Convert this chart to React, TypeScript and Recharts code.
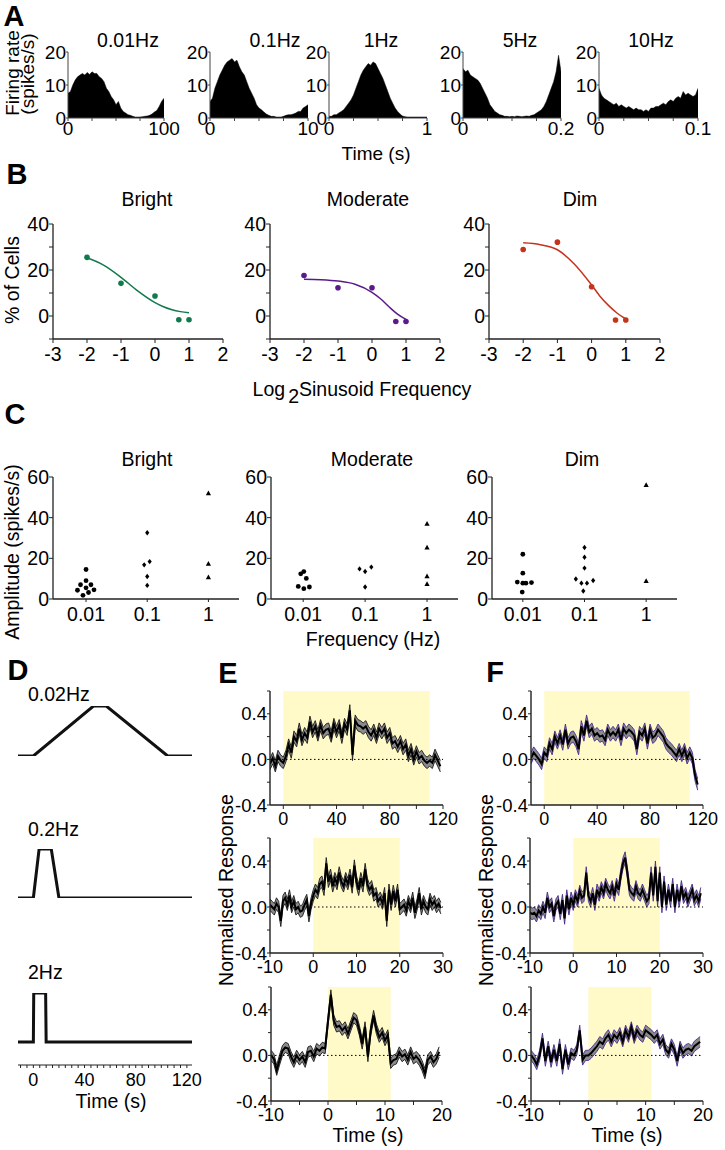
import React from 'react';
import {
  AreaChart, Area, ComposedChart, Line, LineChart, Scatter, XAxis, YAxis,
  ReferenceArea, ReferenceLine,
} from 'recharts';

const FONT = "'Liberation Sans', Arial, Helvetica, sans-serif";

// ---------------- Panel A: firing-rate histograms (spikes/s) ----------------
const A_F001 = [7.5, 8, 10, 11.5, 12.5, 13, 13.5, 13, 13.8, 13.2, 14, 13.5, 13.5, 12.5, 12, 11, 9, 8, 6.5, 5.5, 4, 5, 3, 2, 1.5, 1, 0.8, 0.5, 0.3, 0.3, 0.3, 0.4, 0.5, 0.6, 0.8, 1.2, 1.8, 2.3, 3.5, 5, 6];
const A_F01 = [5, 6, 9, 11, 13, 14.5, 16, 17, 17.5, 18, 17, 17.5, 15.5, 14, 13, 11, 9, 7.5, 6, 4, 3, 2.5, 1.8, 1.2, 0.8, 0.5, 0.5, 0.3, 0.3, 0.3, 0.5, 0.8, 1, 1, 1.2, 1.5, 2, 2, 3, 3.5, 4];
const A_F1 = [0.5, 0.5, 1, 1, 1.5, 2, 2.5, 3.5, 4.5, 5.5, 7, 9, 11, 13, 14.5, 15.5, 16.5, 16, 17, 16.5, 15, 13.5, 12, 10, 8, 6, 4.5, 3, 2, 1.2, 0.6, 0.4, 0.3, 0.3, 0.3, 0.3, 0.3, 0.3, 0.3, 0.3, 0.3];
const A_F5 = [15, 14, 14.5, 13, 12.5, 12, 11.5, 10.5, 9, 7.5, 6, 4, 3, 2, 1.5, 1, 0.8, 0.5, 0.5, 0.4, 0.5, 0.4, 0.6, 0.5, 0.4, 0.5, 0.6, 0.5, 0.8, 1, 1.5, 2, 2.5, 3.5, 5, 7, 9, 11, 14, 19, 14];
const A_F10 = [9, 7, 6, 5.5, 5, 4.5, 4, 4.5, 3.5, 4, 3.5, 3, 3.5, 3, 2.5, 3, 2.5, 2.5, 2, 2.5, 2, 3, 3, 3.5, 3.5, 4, 4.5, 4, 5, 5.5, 5, 6, 6.5, 6, 8, 7, 7.5, 7, 6.5, 7, 9];
const A_TITLES = ['0.01Hz', '0.1Hz', '1Hz', '5Hz', '10Hz'];
const A_MAX = [100, 10, 1, 0.2, 0.1];
const A_END_LABELS = ['100', '10', '1', '0.2', '0.1'];

// ---------------- Panel B: % of cells vs log frequency ----------------
const B_X = [-2, -1, 0, 0.7, 1];
const B_BRIGHT = [25.5, 14.2, 8.7, -1.6, -1.6];
const B_MODERATE = [17.6, 12.3, 12.3, -2.4, -2.4];
const B_DIM = [28.9, 32.1, 12.7, -1.75, -1.75];
const B_FIT_X = [-2, -1.5, -1, -0.5, 0, 0.25, 0.5, 0.75, 1];
const B_BRIGHT_FIT = [25.3, 22, 16.8, 10.8, 5.8, 4, 2.7, 1.9, 1.4];
const B_MODERATE_FIT = [16.0, 15.8, 15.2, 13.8, 10.3, 7.5, 4.0, 0.8, -1.5];
const B_DIM_FIT = [31.8, 31.0, 28.8, 22.5, 13.5, 8.5, 4.5, 1.2, -1.3];
const B_TICKS_X = [-3, -2, -1, 0, 1, 2];

// ---------------- Panel C: amplitudes (spikes/s) ----------------
const C_CATS = ['0.01', '0.1', '1'];
const C_BRIGHT_001 = [14.5, 9, 7, 7, 4.3, 5.5, 4.5, 3.2, 1.8];
const C_BRIGHT_001_J = [0, 0, -0.09, 0.08, -0.14, 0, 0.13, 0.04, -0.05];
const C_BRIGHT_01 = [32.6, 16.8, 18.4, 11.1, 6.7];
const C_BRIGHT_01_J = [0, -0.05, 0.04, 0, 0];
const C_BRIGHT_1 = [51.9, 17.3, 10.6];
const C_MOD_001 = [12.4, 13.5, 10.1, 6.2, 5.1, 5.9];
const C_MOD_001_J = [-0.04, 0.01, 0.05, -0.08, 0.01, 0.1];
const C_MOD_01 = [14.8, 13.5, 15.7, 5.9];
const C_MOD_01_J = [-0.09, 0, 0.1, 0];
const C_MOD_1 = [36.9, 25.3, 11.1, 7.3];
const C_DIM_001 = [22.0, 12.7, 8.3, 7.8, 7.8, 8.1, 3.4];
const C_DIM_001_J = [0, 0, -0.09, 0, 0.05, 0.14, -0.01];
const C_DIM_01 = [25.3, 20.5, 15.2, 9.8, 7.8, 7.8, 9.1, 3.9];
const C_DIM_01_J = [0, 0, 0, -0.14, -0.05, 0.04, 0.14, -0.02];
const C_DIM_1 = [56, 8.8];

// ---------------- Panel D: stimulus profiles ----------------
const D1_T = [-12, 0, 47, 57, 105, 124];
const D1_V = [0, 0, 1, 1, 0, 0];
const D2_T = [-12, 0, 4.5, 14, 20, 124];
const D2_V = [0, 0, 1, 1, 0, 0];
const D3_T = [-12, 0, 0.3, 9.6, 10, 124];
const D3_V = [0, 0, 1, 1, 0, 0];
const D_TICKS = [-10, -5, 0, 5, 10, 15, 20, 25, 30, 35, 40, 45, 50, 55, 60, 65, 70, 75, 80, 85, 90, 95, 100, 105, 110, 115, 120];

// ---------------- Panels E & F: normalised responses ----------------
const E1 = [-0.04, 0.01, -0.06, 0.03, -0.01, -0.03, 0.03, 0.13, 0.06, 0.2, 0.16, 0.27, 0.17, 0.23, 0.19, 0.33, 0.24, 0.29, 0.21, 0.3, 0.23, 0.26, 0.27, 0.2, 0.31, 0.24, 0.3, 0.19, 0.31, 0.26, 0.43, 0.04, 0.34, 0.3, 0.29, 0.27, 0.29, 0.24, 0.21, 0.26, 0.19, 0.27, 0.23, 0.27, 0.19, 0.23, 0.14, 0.16, 0.11, 0.16, 0.09, 0.13, 0.03, 0.09, 0.0, 0.07, 0.01, 0.03, -0.01, -0.03, -0.01, -0.03, 0.04, -0.01, -0.06];
const E2 = [0.02, 0.0, -0.02, 0.03, 0.0, -0.12, 0.05, 0.08, 0.02, 0.1, 0.0, 0.05, -0.02, 0.0, -0.04, -0.03, 0.02, 0.06, -0.08, 0.03,
  0.1, 0.15, 0.12, 0.2, 0.22, 0.15, 0.38, 0.22, 0.28, 0.18, 0.25, 0.2, 0.3, 0.22, 0.18, 0.25, 0.2, 0.28, 0.17, 0.36,
  0.22, 0.15, 0.25, 0.18, 0.33, 0.2, 0.15, 0.18, 0.1, 0.12, 0.05, 0.08, 0.03, 0.12, -0.12, 0.15, 0.02, 0.14, 0.05, 0.15,
  -0.02, 0.0, 0.02, -0.03, 0.05, 0.0, 0.08, -0.05, 0.02, 0.12, -0.02, 0.05, 0.0, -0.02, 0.07, 0.02, 0.05, 0.0, 0.03, -0.01];
const E3 = [0.0, -0.03, -0.13, -0.04, 0.04, 0.07, 0.06, -0.01, -0.06, 0.0, -0.04, -0.01, -0.06, 0.03, 0.04, -0.01, 0.06, 0.04, 0.07, 0.06,
  0.3, 0.53, 0.31, 0.25, 0.26, 0.22, 0.25, 0.19, 0.26, 0.33, 0.31, 0.22, 0.1, 0.25, -0.01, 0.22, 0.35, 0.23, 0.16, 0.2,
  0.13, 0.18, -0.07, -0.04, -0.03, 0.03, -0.01, 0.01, -0.04, 0.03, -0.03, -0.01, -0.04, -0.09, -0.16, -0.04, -0.01, -0.06, -0.03, 0.03];
const F1 = [0.01, 0.06, 0.03, 0.0, -0.04, 0.06, 0.03, 0.14, 0.09, 0.2, 0.14, 0.21, 0.13, 0.26, 0.14, 0.19, 0.2, 0.16, 0.09, 0.29, 0.21, 0.34, 0.24, 0.27, 0.21, 0.23, 0.2, 0.21, 0.17, 0.26, 0.21, 0.24, 0.21, 0.26, 0.17, 0.27, 0.23, 0.26, 0.24, 0.21, 0.09, 0.24, 0.21, 0.27, 0.14, 0.26, 0.19, 0.21, 0.26, 0.23, 0.2, 0.14, 0.11, 0.09, 0.06, 0.03, 0.09, 0.03, 0.09, 0.01, 0.06, 0.01, -0.14, -0.22];
const F2 = [-0.05, -0.06, -0.05, -0.08, -0.03, -0.06, 0.0, -0.05, 0.08, 0.0, 0.03, -0.08, 0.02, 0.05, -0.06, 0.06, -0.1, 0.1, -0.02, 0.08,
  0.02, 0.1, 0.05, 0.14, 0.08, 0.1, 0.3, 0.1, 0.05, 0.12, 0.02, 0.15, 0.1, 0.17, 0.12, 0.2, 0.15, 0.12, 0.18, 0.1,
  0.2, 0.15, 0.28, 0.38, 0.43, 0.3, 0.15, 0.12, 0.1, 0.18, 0.12, 0.1, 0.15, 0.1, 0.05, 0.08, 0.3, 0.1, 0.35, 0.05,
  0.3, 0.0, 0.22, 0.02, 0.15, 0.05, 0.2, 0.0, 0.15, 0.05, 0.18, 0.08, 0.12, 0.05, 0.1, 0.15, 0.06, 0.1, 0.05, 0.12];
const F3 = [0.0, -0.03, -0.08, 0.0, 0.15, -0.05, 0.08, -0.06, 0.05, -0.05, 0.1, -0.12, 0.05, -0.08, 0.02, 0.0, 0.05, 0.22, -0.04, 0.0,
  0.0, 0.02, 0.05, 0.08, 0.12, 0.1, 0.15, 0.18, 0.12, 0.18, 0.15, 0.2, 0.12, 0.22, 0.16, 0.25, 0.15, 0.22, 0.18, 0.16,
  0.22, 0.2, 0.18, 0.15, 0.18, 0.1, 0.14, 0.05, 0.02, 0.1, 0.05, -0.05, 0.08, 0.02, 0.05, 0.06, 0.04, 0.08, 0.1, 0.12];
const SEM_E = [0.05, 0.05, 0.045];
const SEM_F = [0.05, 0.05, 0.045];
const Y_RESP_TICKS = [-0.4, -0.2, 0, 0.2, 0.4, 0.6];
const X_TICKS_120 = [0, 20, 40, 60, 80, 100, 120];
const X_TICKS_30 = [-10, 0, 10, 20, 30];
const X_TICKS_20 = [-10, -5, 0, 5, 10, 15, 20];

// ---------------- layout helpers ----------------
type Rect = { x: number; y: number; w: number; h: number };
const YW = 56, XH = 40, MT = 16, MR = 34, ML = 2, MB = 2;
const MARGIN = { top: MT, right: MR, bottom: MB, left: ML };

function Frame({ r, children }: { r: Rect; children: (w: number, h: number) => React.ReactNode }) {
  const width = ML + YW + r.w + MR;
  const height = MT + r.h + XH + MB;
  return (
    <div style={{ position: 'absolute', left: r.x - YW - ML, top: r.y - MT, width, height }}>
      {children(width, height)}
    </div>
  );
}

function T({ x, y, s = 19.5, children, rot = false, bold = false, left = false }:
  { x: number; y: number; s?: number; children: React.ReactNode; rot?: boolean; bold?: boolean; left?: boolean }) {
  return (
    <div style={{
      position: 'absolute', left: x, top: y,
      transform: `translate(${left ? '0' : '-50%'},-50%)${rot ? ' rotate(-90deg)' : ''}`,
      fontSize: s, fontWeight: bold ? 700 : 400, lineHeight: 1, whiteSpace: 'nowrap',
      color: '#000', fontFamily: FONT,
    }}>{children}</div>
  );
}

const tickStyle = (s: number) => ({ fill: '#000', fontSize: s, fontFamily: FONT });

// ---------------- Panel A ----------------
function Hist({ r, values, max, endLabel }: { r: Rect; values: number[]; max: number; endLabel: string }) {
  const n = values.length - 1;
  const data = values.map((v, i) => ({ x: (i * max) / n, v }));
  return (
    <Frame r={r}>
      {(w, h) => (
        <AreaChart width={w} height={h} data={data} margin={MARGIN}>
          <XAxis dataKey="x" type="number" domain={[0, max]} allowDataOverflow
            ticks={[0, max / 4, max / 2, (3 * max) / 4, max]} interval={0}
            tickFormatter={(t: number) => (t === 0 ? '0' : t === max ? endLabel : '')}
            height={XH} tickSize={3} tickMargin={1}
            axisLine={{ stroke: '#444', strokeWidth: 1 }} tickLine={{ stroke: '#444' }} tick={tickStyle(19)} />
          <YAxis type="number" domain={[0, 20]} ticks={[0, 10, 20]} interval={0} width={YW}
            tickSize={2} tickMargin={0}
            axisLine={{ stroke: '#444', strokeWidth: 1 }} tickLine={{ stroke: '#444' }} tick={tickStyle(19)} />
          <Area type="linear" dataKey="v" stroke="#000" strokeWidth={0.5} fill="#000" fillOpacity={1} isAnimationActive={false} />
        </AreaChart>
      )}
    </Frame>
  );
}

// ---------------- Panel B ----------------
function Fit({ r, pts, fit, color }: { r: Rect; pts: number[]; fit: number[]; color: string }) {
  const ptsData = B_X.map((x, i) => ({ x, y: pts[i] }));
  const fitData = B_FIT_X.map((x, i) => ({ x, y: fit[i] }));
  return (
    <Frame r={r}>
      {(w, h) => (
        <ComposedChart width={w} height={h} margin={MARGIN}>
          <XAxis dataKey="x" type="number" domain={[-3, 2]} ticks={B_TICKS_X} interval={0}
            height={XH} tickSize={4} tickMargin={4}
            axisLine={{ stroke: '#222', strokeWidth: 1.3 }} tickLine={{ stroke: '#222' }} tick={tickStyle(19.5)} />
          <YAxis dataKey="y" type="number" domain={[-10, 40]} ticks={[-10, 0, 10, 20, 30, 40]} interval={0}
            tickFormatter={(v: number) => (v % 20 === 0 ? String(v) : '')}
            width={YW} tickSize={4} tickMargin={0}
            axisLine={{ stroke: '#222', strokeWidth: 1.3 }} tickLine={{ stroke: '#222' }} tick={tickStyle(19.5)} />
          <Line data={fitData} dataKey="y" type="monotone" stroke={color} strokeWidth={1.5} dot={false} isAnimationActive={false} />
          <Scatter data={ptsData} dataKey="y" fill={color} isAnimationActive={false}
            shape={(p: any) => <circle cx={p.cx} cy={p.cy} r={2.8} fill={color} />} />
        </ComposedChart>
      )}
    </Frame>
  );
}

// ---------------- Panel C ----------------
const circleShape = (p: any) => <circle cx={p.cx} cy={p.cy} r={2.4} fill="#000" />;
const diamondShape = (p: any) => (
  <path d={`M${p.cx},${p.cy - 2.7}L${p.cx + 2.1},${p.cy}L${p.cx},${p.cy + 2.7}L${p.cx - 2.1},${p.cy}Z`} fill="#000" />
);
const triShape = (p: any) => (
  <path d={`M${p.cx},${p.cy - 2.9}L${p.cx + 2.6},${p.cy + 1.9}L${p.cx - 2.6},${p.cy + 1.9}Z`} fill="#000" />
);

function Amp({ r, lo, a, aj, b, bj, c }:
  { r: Rect; lo: number; a: number[]; aj: number[]; b: number[]; bj: number[]; c: number[] }) {
  const da = a.map((y, i) => ({ x: 1 + aj[i], y }));
  const db = b.map((y, i) => ({ x: 2 + bj[i], y }));
  const dc = c.map((y) => ({ x: 3, y }));
  return (
    <Frame r={r}>
      {(w, h) => (
        <ComposedChart width={w} height={h} margin={MARGIN}>
          <XAxis dataKey="x" type="number" domain={[lo, 3.5]} ticks={[1, 2, 3]} interval={0}
            tickFormatter={(v: number) => C_CATS[v - 1]}
            height={XH} tickSize={3} tickMargin={5}
            axisLine={{ stroke: '#222', strokeWidth: 1.3 }} tickLine={{ stroke: '#222' }} tick={tickStyle(19.5)} />
          <YAxis dataKey="y" type="number" domain={[0, 60]} ticks={[0, 20, 40, 60]} interval={0}
            width={YW} tickSize={4} tickMargin={0}
            axisLine={{ stroke: '#222', strokeWidth: 1.3 }} tickLine={{ stroke: '#222' }} tick={tickStyle(19.5)} />
          <Scatter data={da} dataKey="y" fill="#000" isAnimationActive={false} shape={circleShape} />
          <Scatter data={db} dataKey="y" fill="#000" isAnimationActive={false} shape={diamondShape} />
          <Scatter data={dc} dataKey="y" fill="#000" isAnimationActive={false} shape={triShape} />
        </ComposedChart>
      )}
    </Frame>
  );
}

// ---------------- Panel D ----------------
function Stim({ r, t, v, axis }: { r: Rect; t: number[]; v: number[]; axis: boolean }) {
  const data = t.map((tt, i) => ({ t: tt, v: v[i] }));
  return (
    <Frame r={r}>
      {(w, h) => (
        <LineChart width={w} height={h} data={data} margin={MARGIN}>
          <XAxis dataKey="t" type="number" domain={[-12, 124]} allowDataOverflow
            ticks={D_TICKS} interval={0}
            tickFormatter={(x: number) => (x >= 0 && x % 40 === 0 ? String(x) : '')}
            height={XH} tickSize={3} tickMargin={5}
            axisLine={axis ? { stroke: '#222', strokeWidth: 1 } : false}
            tickLine={axis ? { stroke: '#222' } : false}
            tick={axis ? tickStyle(18) : false} />
          <YAxis type="number" domain={[axis ? -0.47 : 0, 1]} allowDataOverflow width={YW}
            axisLine={false} tickLine={false} tick={false} />
          <Line dataKey="v" type="linear" stroke="#111" strokeWidth={3} dot={false} isAnimationActive={false} />
        </LineChart>
      )}
    </Frame>
  );
}

// ---------------- Panels E / F ----------------
function Resp({ r, mean, sem, t0, dt, domain, ticks, labels, stimEnd, edge }:
  { r: Rect; mean: number[]; sem: number; t0: number; dt: number; domain: [number, number];
    ticks: number[]; labels: number[]; stimEnd: number; edge: string }) {
  const data = mean.map((m, i) => ({ t: t0 + i * dt, m, band: [m - sem, m + sem] }));
  return (
    <Frame r={r}>
      {(w, h) => (
        <ComposedChart width={w} height={h} data={data} margin={MARGIN}>
          <XAxis dataKey="t" type="number" domain={domain} allowDataOverflow ticks={ticks} interval={0}
            tickFormatter={(x: number) => (labels.includes(x) ? String(x) : '')}
            height={XH} tickSize={4} tickMargin={3}
            axisLine={{ stroke: '#222', strokeWidth: 1.4 }} tickLine={{ stroke: '#222' }} tick={tickStyle(18)} />
          <YAxis type="number" domain={[-0.4, 0.6]} allowDataOverflow ticks={Y_RESP_TICKS} interval={0}
            tickFormatter={(v: number) => (v === -0.4 || v === 0 || v === 0.4 ? v.toFixed(1) : '')}
            width={YW} tickSize={3} tickMargin={0}
            axisLine={{ stroke: '#222', strokeWidth: 1.4 }} tickLine={{ stroke: '#222' }} tick={tickStyle(18.5)} />
          <ReferenceArea x1={0} x2={stimEnd} y1={-0.4} y2={0.6} fill="#fffac8" fillOpacity={1} stroke="none" />
          <ReferenceLine y={0} stroke="#000" strokeWidth={1} strokeDasharray="1.5 2.5" />
          <Area dataKey="band" type="linear" fill="#8b8b8e" fillOpacity={1} stroke={edge} strokeWidth={0.9} isAnimationActive={false} />
          <Line dataKey="m" type="linear" stroke="#000" strokeWidth={2} dot={false} isAnimationActive={false} />
        </ComposedChart>
      )}
    </Frame>
  );
}

export default function App() {
  const aRects: Rect[] = [
    { x: 68, y: 52, w: 96, h: 66 },
    { x: 210, y: 52, w: 98, h: 66 },
    { x: 329, y: 52, w: 98, h: 66 },
    { x: 463, y: 52, w: 98, h: 66 },
    { x: 599, y: 52, w: 99, h: 66 },
  ];
  const aVals = [A_F001, A_F01, A_F1, A_F5, A_F10];
  const aTitleX = [128, 275, 381, 520, 651];

  const E_EDGE = '#1a1a1a';
  const F_EDGE = '#4b2c91';

  return (
    <div style={{ position: 'absolute', left: 0, top: 0, width: 725, height: 1150, background: '#fff', overflow: 'hidden', fontFamily: FONT }}>
      {/* ---- A ---- */}
      <T x={14} y={16} s={29} bold>A</T>
      {aRects.map((r, i) => (
        <Hist key={i} r={r} values={aVals[i]} max={A_MAX[i]} endLabel={A_END_LABELS[i]} />
      ))}
      {A_TITLES.map((t, i) => <T key={t} x={aTitleX[i]} y={41} s={19.5}>{t}</T>)}
      <T x={12} y={73} s={19} rot>Firing rate</T>
      <T x={27} y={74} s={19} rot>(spikes/s)</T>
      <T x={376} y={153} s={19}>Time (s)</T>

      {/* ---- B ---- */}
      <T x={17} y={174} s={29} bold>B</T>
      <Fit r={{ x: 53, y: 224, w: 170, h: 115 }} pts={B_BRIGHT} fit={B_BRIGHT_FIT} color="#117a4c" />
      <Fit r={{ x: 270, y: 224, w: 170, h: 115 }} pts={B_MODERATE} fit={B_MODERATE_FIT} color="#5a1a8c" />
      <Fit r={{ x: 489, y: 224, w: 171, h: 115 }} pts={B_DIM} fit={B_DIM_FIT} color="#c3341c" />
      <T x={147} y={200}>Bright</T>
      <T x={368} y={200}>Moderate</T>
      <T x={580} y={200}>Dim</T>
      <T x={13} y={280} rot>% of Cells</T>
      <T x={362} y={390}>
        <span>Log<span style={{ position: 'relative', top: 7, marginLeft: 3 }}>2</span>Sinusoid Frequency</span>
      </T>

      {/* ---- C ---- */}
      <T x={15} y={414} s={29} bold>C</T>
      <Amp r={{ x: 53, y: 477, w: 186, h: 122 }} lo={0.46}
        a={C_BRIGHT_001} aj={C_BRIGHT_001_J} b={C_BRIGHT_01} bj={C_BRIGHT_01_J} c={C_BRIGHT_1} />
      <Amp r={{ x: 271, y: 477, w: 187, h: 122 }} lo={0.48}
        a={C_MOD_001} aj={C_MOD_001_J} b={C_MOD_01} bj={C_MOD_01_J} c={C_MOD_1} />
      <Amp r={{ x: 492, y: 477, w: 185, h: 122 }} lo={0.5}
        a={C_DIM_001} aj={C_DIM_001_J} b={C_DIM_01} bj={C_DIM_01_J} c={C_DIM_1} />
      <T x={147} y={460}>Bright</T>
      <T x={372} y={460}>Moderate</T>
      <T x={582} y={460}>Dim</T>
      <T x={13} y={552} rot>Amplitude (spikes/s)</T>
      <T x={373} y={640}>Frequency (Hz)</T>

      {/* ---- D ---- */}
      <T x={18} y={670} s={29} bold>D</T>
      <Stim r={{ x: 18, y: 706, w: 174, h: 50 }} t={D1_T} v={D1_V} axis={false} />
      <Stim r={{ x: 18, y: 849, w: 174, h: 49 }} t={D2_T} v={D2_V} axis={false} />
      <Stim r={{ x: 18, y: 993, w: 174, h: 72 }} t={D3_T} v={D3_V} axis />
      <T x={28} y={695} left>0.02Hz</T>
      <T x={28} y={830} left>0.2Hz</T>
      <T x={28} y={973} left>2Hz</T>
      <T x={111} y={1102}>Time (s)</T>

      {/* ---- E ---- */}
      <T x={228} y={673} s={29} bold>E</T>
      <Resp r={{ x: 270, y: 691, w: 173, h: 114 }} mean={E1} sem={SEM_E[0]} t0={-10} dt={2}
        domain={[-10, 120]} ticks={X_TICKS_120} labels={[0, 40, 80, 120]} stimEnd={110} edge={E_EDGE} />
      <Resp r={{ x: 270, y: 838, w: 173, h: 115 }} mean={E2} sem={SEM_E[1]} t0={-10} dt={0.5}
        domain={[-10, 30]} ticks={X_TICKS_30} labels={[-10, 0, 10, 20, 30]} stimEnd={20} edge={E_EDGE} />
      <Resp r={{ x: 271, y: 987, w: 171, h: 114 }} mean={E3} sem={SEM_E[2]} t0={-10} dt={0.5}
        domain={[-10, 20]} ticks={X_TICKS_20} labels={[-10, 0, 10, 20]} stimEnd={11} edge={E_EDGE} />
      <T x={227} y={890} rot>Normalised Response</T>
      <T x={368} y={1136}>Time (s)</T>

      {/* ---- F ---- */}
      <T x={495} y={672} s={29} bold>F</T>
      <Resp r={{ x: 531, y: 691, w: 172, h: 114 }} mean={F1} sem={SEM_F[0]} t0={-10} dt={2}
        domain={[-10, 120]} ticks={X_TICKS_120} labels={[0, 40, 80, 120]} stimEnd={110} edge={F_EDGE} />
      <Resp r={{ x: 530, y: 838, w: 173, h: 115 }} mean={F2} sem={SEM_F[1]} t0={-10} dt={0.5}
        domain={[-10, 30]} ticks={X_TICKS_30} labels={[-10, 0, 10, 20, 30]} stimEnd={20} edge={F_EDGE} />
      <Resp r={{ x: 531, y: 987, w: 172, h: 114 }} mean={F3} sem={SEM_F[2]} t0={-10} dt={0.5}
        domain={[-10, 20]} ticks={X_TICKS_20} labels={[-10, 0, 10, 20]} stimEnd={11} edge={F_EDGE} />
      <T x={487} y={890} rot>Normalised Response</T>
      <T x={627} y={1136}>Time (s)</T>
    </div>
  );
}
